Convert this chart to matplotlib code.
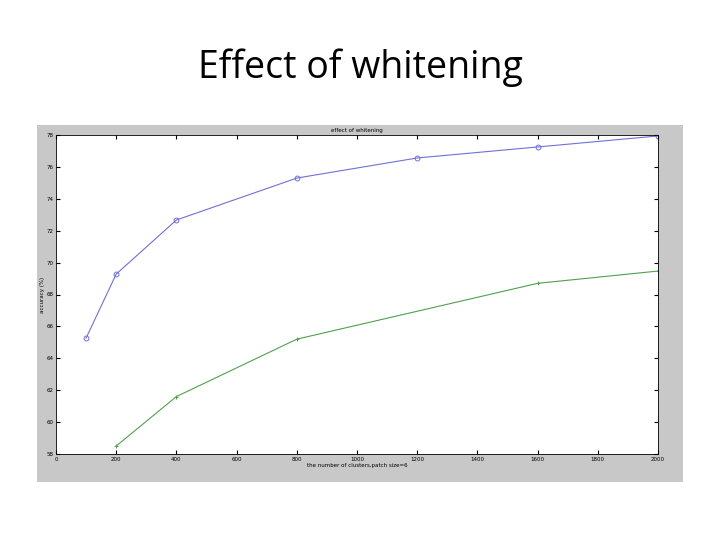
import matplotlib.pyplot as plt

# Data
blue_x = [100, 200, 400, 800, 1200, 1600, 2000]
blue_y = [65.27, 69.28, 72.67, 75.3, 76.56, 77.25, 77.94]
green_x = [200, 400, 800, 1600, 2000]
green_y = [58.5, 61.6, 65.2, 68.7, 69.47]
x_ticks = list(range(0, 2001, 200))
y_ticks = list(range(58, 79, 2))

W, H = 720, 540
fig = plt.figure(figsize=(7.2, 5.4), dpi=100)
fig.patch.set_facecolor('white')

# slide title
fig.text(360 / W, 1 - 68 / H, 'Effect of whitening', ha='center', va='center',
         fontsize=27, family='Open Sans')

# grey matlab figure background, as an empty axes behind the plot
bg = fig.add_axes([37 / W, 1 - 482 / H, 646 / W, 357 / H], zorder=0)
bg.set_facecolor('#c8c8c8')
bg.set_xticks([])
bg.set_yticks([])
for s in bg.spines.values():
    s.set_visible(False)

ax = fig.add_axes([56 / W, 1 - 454 / H, 602 / W, 319 / H], zorder=1)
ax.set_facecolor('white')
ax.plot(blue_x, blue_y, color='#7070d8', lw=0.8, marker='o', ms=3.5,
        mfc='none', mew=0.7)
ax.plot(green_x, green_y, color='#50a050', lw=0.8, marker='+', ms=3.5, mew=0.7)
ax.set_xlim(0, 2000)
ax.set_ylim(58, 78)
ax.set_xticks(x_ticks)
ax.set_yticks(y_ticks)
ax.tick_params(labelsize=4, direction='in', length=3, top=True, right=True, pad=2)
ax.set_title('effect of whitening', fontsize=4, pad=2)
ax.set_xlabel('the number of clusters,patch size=6', fontsize=4, labelpad=1)
ax.set_ylabel('accuracy (%)', fontsize=4, labelpad=1)
for s in ax.spines.values():
    s.set_linewidth(0.6)

plt.savefig('out.png', dpi=100)
